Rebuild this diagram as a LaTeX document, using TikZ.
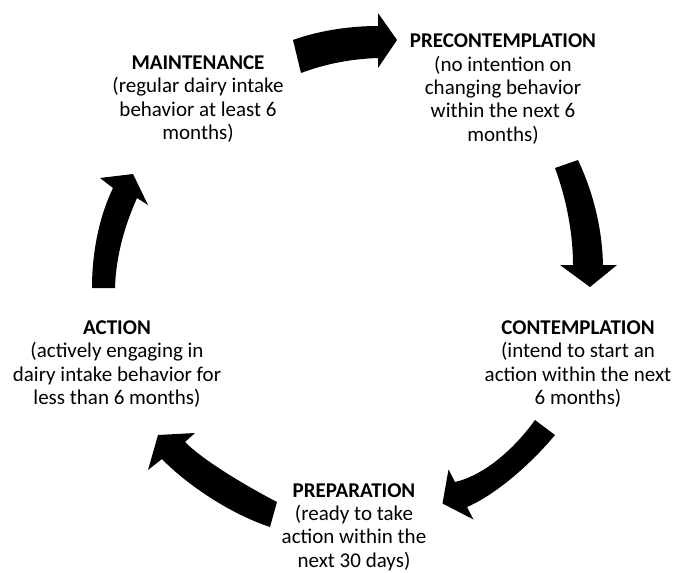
\documentclass[tikz,border=0pt]{standalone}
\usepackage{fontspec}
\setmainfont{Carlito}
\begin{document}
\begin{tikzpicture}[x=0.75pt,y=-0.75pt,
  stage/.style={align=center,inner sep=0pt,font=\fontsize{15.75pt}{17.5pt}\selectfont},
  blockarrow/.style={fill=black,draw=none}]
\useasboundingbox (0,0) rectangle (675,572);

% stage texts
\node[stage] (maint) at (198,99) {\textbf{MAINTENANCE}\\(regular dairy intake\\behavior at least 6\\months)};
\node[stage] (precon) at (503,89) {\textbf{PRECONTEMPLATION}\\(no intention on\\changing behavior\\within the next 6\\months)};
\node[stage] (contem) at (578,364) {\textbf{CONTEMPLATION}\\(intend to start an\\action within the next\\6 months)};
\node[stage] (prep) at (354,527) {\textbf{PREPARATION}\\(ready to take\\action within the\\next 30 days)};
\node[stage] (action) at (117,364) {\textbf{ACTION}\\(actively engaging in\\dairy intake behavior for\\less than 6 months)};

% arrow 1: maintenance -> precontemplation
\fill[blockarrow] (293,40) .. controls (315,32) and (345,26) .. (378,26)
  -- (378,13) -- (397,40) -- (378,68) -- (378,58)
  .. controls (350,59) and (325,64) .. (301,73) -- cycle;
% arrow 2: precontemplation -> contemplation
\fill[blockarrow] (555,168) .. controls (565,195) and (573,230) .. (573,265)
  -- (560,265) -- (590,287) -- (617,265) -- (603,265)
  .. controls (602,225) and (592,190) .. (578,160) -- cycle;
% arrow 3: contemplation -> preparation
\fill[blockarrow] (535,420) .. controls (515,448) and (485,475) .. (455,482)
  -- (448.5,469.5) -- (442.5,503.5) -- (473.5,519.5) -- (467,507)
  .. controls (495,495) and (530,465) .. (555,435) -- cycle;
% arrow 4: preparation -> action
\fill[blockarrow] (277,502) .. controls (250,488) and (205,462) .. (185,442)
  -- (195,433) -- (158,435) -- (148,470) -- (162,459)
  .. controls (182,480) and (225,512) .. (270,527) -- cycle;
% arrow 5: action -> maintenance
\fill[blockarrow] (92,288) .. controls (92,250) and (100,215) .. (113,188)
  -- (100,178) -- (133,174) -- (148,205) -- (137,198)
  .. controls (125,225) and (116,255) .. (115,288) -- cycle;
\end{tikzpicture}
\end{document}
